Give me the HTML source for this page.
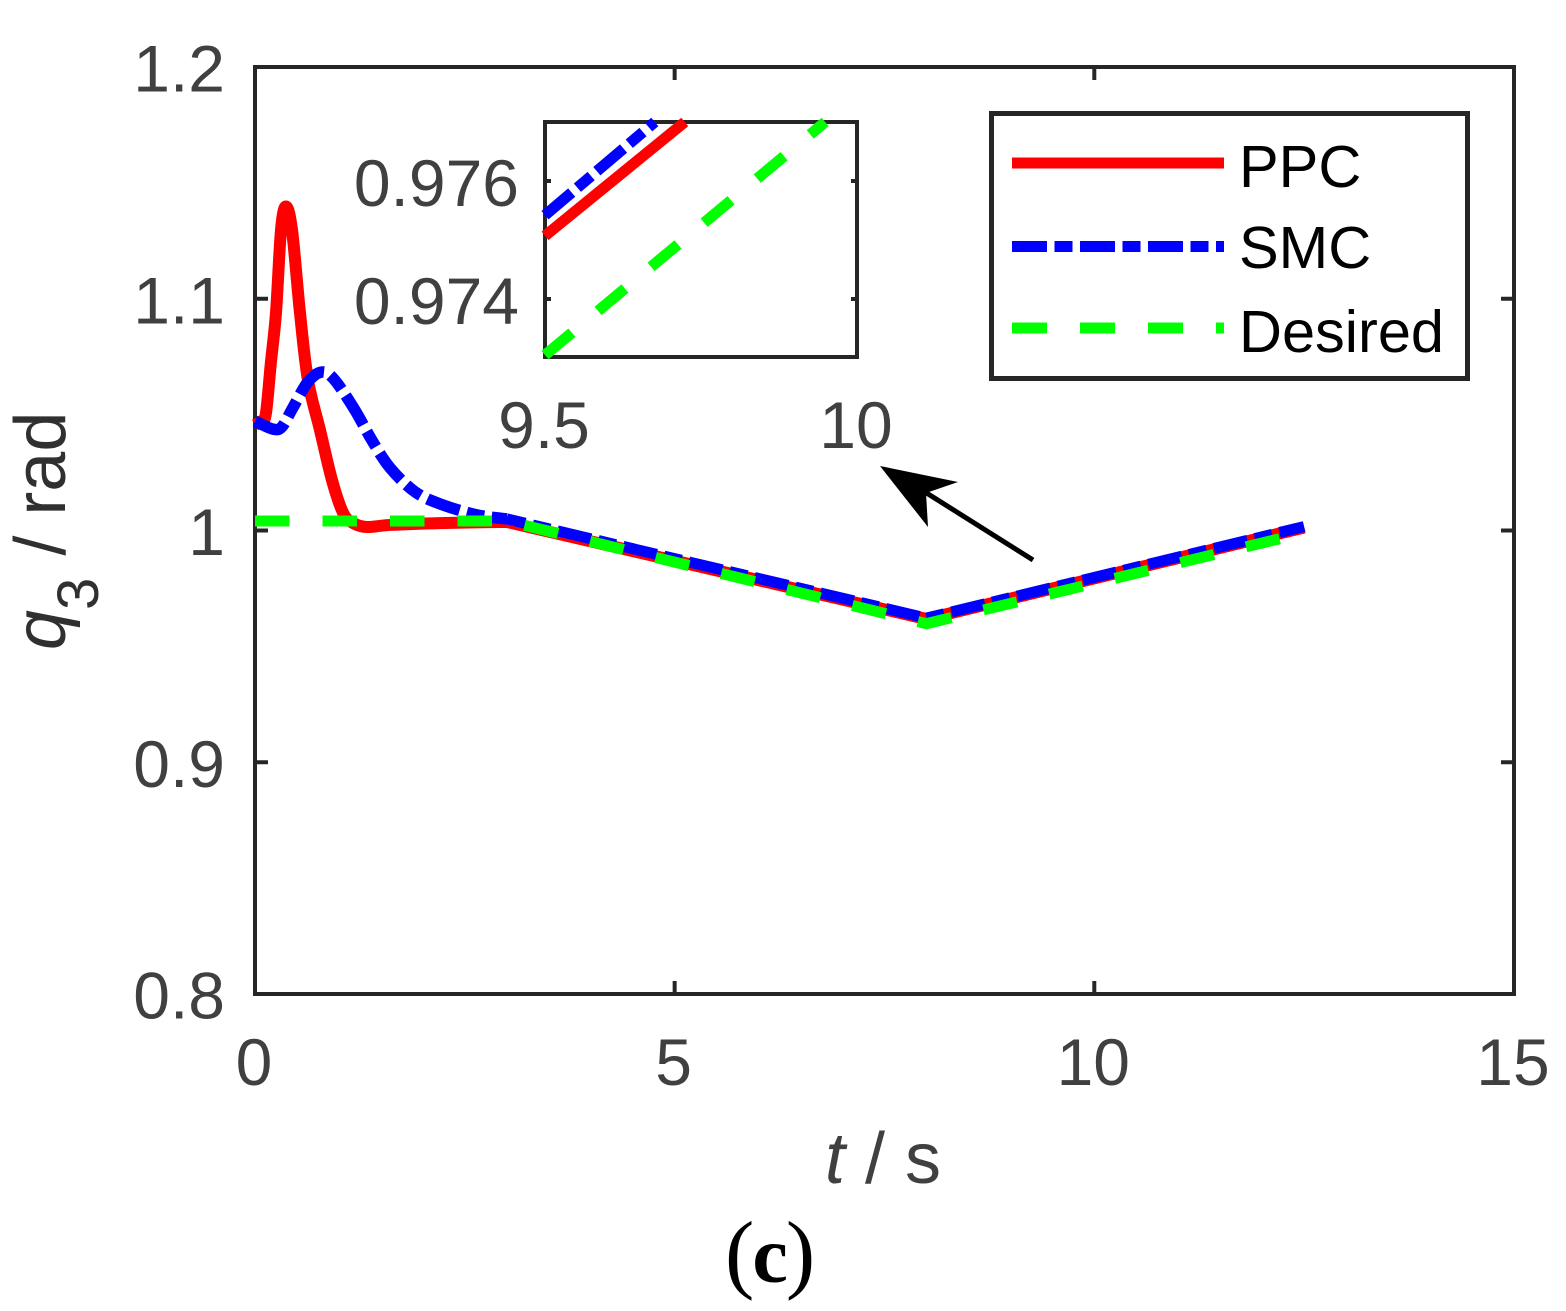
<!DOCTYPE html>
<html lang="en">
<head>
<meta charset="utf-8">
<title>q3 tracking chart</title>
<style>
html,body{margin:0;padding:0;background:#fff;width:1566px;height:1311px;overflow:hidden}
svg{display:block}
text{font-family:"Liberation Sans",sans-serif}
</style>
</head>
<body>
<svg id="chart" xmlns="http://www.w3.org/2000/svg" width="1566" height="1311" viewBox="0 0 1566 1311">
  <rect x="0" y="0" width="1566" height="1311" fill="#fff"/>
  <rect x="255" y="67" width="1259" height="927" fill="none" stroke="#262626" stroke-width="4"/>
  <g id="main-ticks"></g>
  <g id="main-lines"></g>
  <text x="825" y="1183" font-size="72" fill="#404040"><tspan font-style="italic">t</tspan> / s</text>
  <text transform="translate(65,650) rotate(-90)" font-size="72" fill="#303030"><tspan font-style="italic">q</tspan><tspan font-size="58" dy="33">3</tspan><tspan dy="-33" dx="2"> / rad</tspan></text>
  <text x="725" y="1282" font-size="88" fill="#000" style="font-family:'Liberation Serif',serif">(<tspan font-weight="bold" font-size="80" dx="-2">c</tspan><tspan dx="-2">)</tspan></text>
  <rect x="545" y="122" width="312" height="235" fill="#fff" stroke="#262626" stroke-width="4"/>
  <g id="inset-ticks"></g>
  <g id="inset-lines"></g>
  <g>
    <line x1="1033" y1="560" x2="925" y2="492" stroke="#000" stroke-width="5"/>
    <polygon points="880,466 958,482 926,493 928,527" fill="#000"/>
  </g>
  <g>
    <rect x="991.5" y="113.5" width="476" height="265" fill="#fff" stroke="#262626" stroke-width="5"/>
    <line x1="1012" x2="1224" y1="163" y2="163" stroke="#ff0000" stroke-width="11"/>
    <line x1="1012" x2="1224" y1="246.5" y2="246.5" stroke="#0000ff" stroke-width="11" stroke-dasharray="35 7.5 18 7.5"/>
    <line x1="1012" x2="1224" y1="328" y2="328" stroke="#00ff00" stroke-width="11" stroke-dasharray="35 33"/>
    <text x="1239" y="187" font-size="59.5" fill="#000">PPC</text>
    <text x="1239" y="268" font-size="59.5" fill="#000">SMC</text>
    <text x="1239" y="352" font-size="59.5" fill="#000">Desired</text>
  </g>
</svg>
<script>
const xTicks = [0, 5, 10, 15];
const xTickLabels = ['0', '5', '10', '15'];
const yTicks = [0.8, 0.9, 1.0, 1.1, 1.2];
const yTickLabels = ['0.8', '0.9', '1', '1.1', '1.2'];
const insetXTicks = [9.5, 10];
const insetXTickLabels = ['9.5', '10'];
const insetYTicks = [0.974, 0.976];
const insetYTickLabels = ['0.974', '0.976'];

const ppcTime = [0, 0.08, 0.131, 0.19, 0.25, 0.31, 0.369, 0.441, 0.536, 0.631, 0.774, 0.917, 1.05, 1.17, 1.33, 1.61, 2.2, 3, 8, 12.5];
const ppcValues = [1.0455, 1.0472, 1.0507, 1.0727, 1.0939, 1.1297, 1.1398, 1.1297, 1.0939, 1.0649, 1.0434, 1.0218, 1.0076, 1.0032, 1.0015, 1.0024, 1.0032, 1.0037, 0.9618, 1.0013];
const smcTime = [0, 0.21, 0.32, 0.45, 0.63, 0.8, 0.95, 1.19, 1.39, 1.61, 1.91, 2.24, 2.65, 3, 8, 12.5];
const smcValues = [1.0472, 1.0438, 1.0447, 1.0529, 1.0641, 1.0684, 1.0649, 1.052, 1.0391, 1.027, 1.0166, 1.011, 1.0067, 1.005, 0.9622, 1.0017];
const desiredTime = [0, 3, 8, 12.5];
const desiredValues = [1.0041, 1.0041, 0.9598, 0.999];

const insetPpcTime = [9.5, 9.724];
const insetPpcValues = [0.97507, 0.977];
const insetSmcTime = [9.5, 9.676];
const insetSmcValues = [0.97542, 0.977];
const insetDesiredTime = [9.5, 9.949];
const insetDesiredValues = [0.97305, 0.977];

const NS = 'http://www.w3.org/2000/svg';
const xScale = t => 255 + t * 83.93;
const yScale = q => 530.5 + (1 - q) * 2317.5;
const insetX = t => 545 + (t - 9.5) * 624;
const insetY = q => 122 + (0.977 - q) * 59000;

function make(tag, attrs, parent) {
  const el = document.createElementNS(NS, tag);
  for (const k in attrs) el.setAttribute(k, attrs[k]);
  parent.appendChild(el);
  return el;
}

function curvePath(ts, vs, sx, sy, smoothUntil) {
  const p = ts.map((t, i) => [sx(t), sy(vs[i])]);
  let d = 'M' + p[0][0].toFixed(2) + ' ' + p[0][1].toFixed(2);
  for (let i = 1; i < p.length; i++) {
    if (ts[i] <= smoothUntil) {
      const a = p[Math.max(i - 2, 0)], b = p[i - 1], c = p[i], e = p[Math.min(i + 1, p.length - 1)];
      const k = 1 / 6;
      const e2 = ts[Math.min(i + 1, p.length - 1)] <= smoothUntil ? e : c;
      d += 'C' + (b[0] + (c[0] - a[0]) * k).toFixed(2) + ' ' + (b[1] + (c[1] - a[1]) * k).toFixed(2) + ' ' +
        (c[0] - (e2[0] - b[0]) * k).toFixed(2) + ' ' + (c[1] - (e2[1] - b[1]) * k).toFixed(2) + ' ' +
        c[0].toFixed(2) + ' ' + c[1].toFixed(2);
    } else {
      d += 'L' + p[i][0].toFixed(2) + ' ' + p[i][1].toFixed(2);
    }
  }
  return d;
}

const mainTicks = document.getElementById('main-ticks');
const mainLines = document.getElementById('main-lines');
const insetTicks = document.getElementById('inset-ticks');
const insetLines = document.getElementById('inset-lines');
const TICK = '#262626', LABEL = '#404040';

xTicks.forEach((t, i) => {
  const x = xScale(t);
  if (t > 0 && t < 15) {
    const b = make('line', {x1: x, x2: x, y1: 994, y2: 981, stroke: TICK, 'stroke-width': 4}, mainTicks);
    
    
    const u = make('line', {x1: x, x2: x, y1: 67, y2: 80, stroke: TICK, 'stroke-width': 4}, mainTicks);
    
    
  }
  const l = make('text', {x: x - 1, y: 1085, 'text-anchor': 'middle', 'font-size': 66, fill: LABEL}, mainTicks);
  
  
  l.textContent = xTickLabels[i];
});

yTicks.forEach((q, i) => {
  const y = yScale(q);
  if (q > 0.8 && q < 1.2) {
    const a = make('line', {x1: 255, x2: 268, y1: y, y2: y, stroke: TICK, 'stroke-width': 4}, mainTicks);
    
    
    const c = make('line', {x1: 1514, x2: 1501, y1: y, y2: y, stroke: TICK, 'stroke-width': 4}, mainTicks);
    
    
  }
  const l = make('text', {x: 225, y: y + 24.5, 'text-anchor': 'end', 'font-size': 66, fill: LABEL}, mainTicks);
  
  
  l.textContent = yTickLabels[i];
});

insetXTicks.forEach((t, i) => {
  const l = make('text', {x: insetX(t) - 1, y: 448, 'text-anchor': 'middle', 'font-size': 66, fill: LABEL}, insetTicks);
  
  
  l.textContent = insetXTickLabels[i];
});

insetYTicks.forEach((q, i) => {
  const y = insetY(q);
  const a = make('line', {x1: 545, x2: 551, y1: y, y2: y, stroke: TICK, 'stroke-width': 4}, insetTicks);
  
  
  const c = make('line', {x1: 857, x2: 851, y1: y, y2: y, stroke: TICK, 'stroke-width': 4}, insetTicks);
  
  
  const l = make('text', {x: 519, y: y + 25, 'text-anchor': 'end', 'font-size': 66, fill: LABEL}, insetTicks);
  
  
  l.textContent = insetYTickLabels[i];
});

const ppcLine = make('path', {d: curvePath(ppcTime, ppcValues, xScale, yScale, 3), fill: 'none', stroke: '#ff0000', 'stroke-width': 12, 'stroke-linejoin': 'round'}, mainLines);



const splitIndex = smcTime.findIndex(t => t >= 3);
const smcDash = [34.5, 7.5, 18, 7.5];
const smcPeriod = 67.5;
const smcPhase = 15.5;

const smcTransient = make('path', {d: curvePath(smcTime.slice(0, splitIndex + 1), smcValues.slice(0, splitIndex + 1), xScale, yScale, 3), fill: 'none', stroke: '#0000ff', 'stroke-width': 11.5}, mainLines);


const transientLength = smcTransient.getTotalLength() - smcPhase;
const smcCycles = Math.max(1, Math.round(transientLength / smcPeriod));
const smcScale = transientLength / (smcCycles * smcPeriod);
smcTransient.setAttribute('stroke-dasharray', smcDash.map(v => (v * smcScale).toFixed(2)).join(' '));

const smcTracking = make('path', {d: curvePath(smcTime.slice(splitIndex), smcValues.slice(splitIndex), xScale, yScale, 0), fill: 'none', stroke: '#0000ff', 'stroke-width': 11, 'stroke-dasharray': smcDash.join(' '), 'stroke-dashoffset': smcPhase}, mainLines);



const desiredLine = make('path', {d: curvePath(desiredTime, desiredValues, xScale, yScale, 0), fill: 'none', stroke: '#00ff00', 'stroke-width': 11, 'stroke-dasharray': '34.5 33'}, mainLines);



const insetPpc = make('path', {d: curvePath(insetPpcTime, insetPpcValues, insetX, insetY, 0), fill: 'none', stroke: '#ff0000', 'stroke-width': 11}, insetLines);


const insetSmc = make('path', {d: curvePath(insetSmcTime, insetSmcValues, insetX, insetY, 0), fill: 'none', stroke: '#0000ff', 'stroke-width': 11, 'stroke-dasharray': '35 7.5 18 7.5'}, insetLines);


const insetDesired = make('path', {d: curvePath(insetDesiredTime, insetDesiredValues, insetX, insetY, 0), fill: 'none', stroke: '#00ff00', 'stroke-width': 11, 'stroke-dasharray': '35 34'}, insetLines);


</script>
</body>
</html>
